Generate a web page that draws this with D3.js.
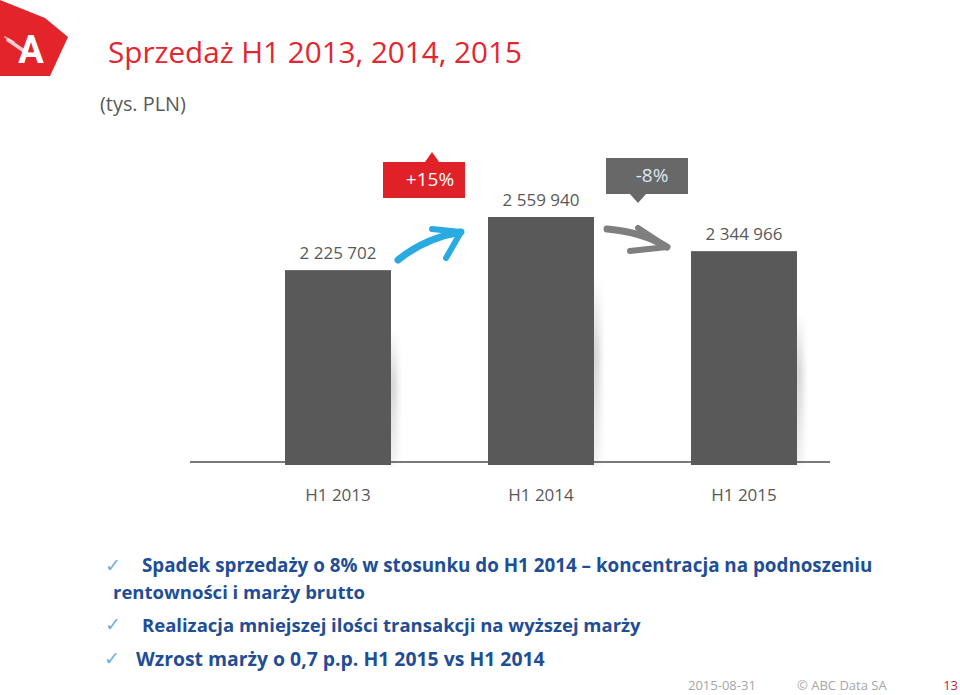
<!DOCTYPE html>
<html><head><meta charset="utf-8">
<script src="https://cdn.jsdelivr.net/npm/d3@7"></script>
<style>
html,body{margin:0;padding:0;background:#fff;}
svg{display:block;font-family:"Open Sans",Lato,sans-serif;}
</style></head>
<body>
<script>
// ---- data ----
const categories = ["H1 2013", "H1 2014", "H1 2015"];
const sales = [2225702, 2559940, 2344966];
const salesLabels = ["2 225 702", "2 559 940", "2 344 966"];
const changes = ["+15%", "-8%"];
const titleText = "Sprzedaż H1 2013, 2014, 2015";
const unitText = "(tys. PLN)";
const bullets = [
  ["Spadek sprzedaży o 8% w stosunku do H1 2014 – koncentracja na podnoszeniu", "rentowności i marży brutto"],
  ["Realizacja mniejszej ilości transakcji na wyższej marży"],
  ["Wzrost marży o 0,7 p.p. H1 2015 vs H1 2014"]
];
const footer = ["2015-08-31", "© ABC Data SA", "13"];

const W = 960, H = 695;
const svg = d3.select("body").append("svg").attr("width", W).attr("height", H);
const defs = svg.append("defs");
const blur = defs.append("filter").attr("id","blur").attr("x","-50%").attr("y","-50%").attr("width","200%").attr("height","200%");
blur.append("feGaussianBlur").attr("stdDeviation", 3);
const grad = defs.append("linearGradient").attr("id","shade").attr("x1",0).attr("y1",0).attr("x2",0).attr("y2",1);
grad.append("stop").attr("offset","0%").attr("stop-color","#000").attr("stop-opacity",0);
grad.append("stop").attr("offset","40%").attr("stop-color","#000").attr("stop-opacity",0.18);
grad.append("stop").attr("offset","100%").attr("stop-color","#000").attr("stop-opacity",0.05);

// helper: fit text to a width
function fit(sel, w){ const n = sel.node(); const cur = parseFloat(sel.attr("font-size")); const l = n.getComputedTextLength(); if(l>0) sel.attr("font-size", cur*w/l); return sel; }

// ---- logo ----
const logo = svg.append("g");
logo.append("path").attr("d","M0,0 L45,18 L68,37 L50,76 L0,76 Z").attr("fill","#e3242b");
logo.append("text").attr("x",31).attr("y",63).attr("text-anchor","middle").attr("font-size",38).attr("font-weight","bold")
  .attr("fill","#fff").attr("font-family","Roboto, sans-serif").text("A");
logo.append("path").attr("d","M8,40 L27,53").attr("stroke","#fff").attr("stroke-width",3.5).attr("opacity",0.75).attr("stroke-linecap","round");
logo.append("path").attr("d","M5,37 L14,42").attr("stroke","#fff").attr("stroke-width",2).attr("opacity",0.5).attr("stroke-linecap","round");

// ---- title ----
fit(svg.append("text").attr("x",108).attr("y",63).attr("font-size",30).attr("fill","#e3262f").text(titleText), 414);
fit(svg.append("text").attr("x",100).attr("y",111).attr("font-size",18).attr("fill","#595959").text(unitText), 86);

// ---- scales ----
const x = d3.scaleBand().domain(categories).range([236.5, 845.5]).paddingInner(0.478).paddingOuter(0.239);
const y = d3.scaleLinear().domain([1000000, 2600000]).range([465, 465 - 1600000 * 248 / 1559940]);

// baseline shadow + line
svg.append("line").attr("x1",190).attr("x2",830).attr("y1",465).attr("y2",465).attr("stroke","#000").attr("stroke-opacity",0.25).attr("stroke-width",3).attr("filter","url(#blur)");
svg.append("line").attr("x1",190).attr("x2",830).attr("y1",462).attr("y2",462).attr("stroke","#7a7a7a").attr("stroke-width",2);

// bar shadows
svg.selectAll("rect.sh").data(sales).join("rect").attr("class","sh")
  .attr("x", (d,i)=>x(categories[i]) + x.bandwidth() - 4)
  .attr("y", d=>y(d) + 60).attr("width", 10).attr("height", d=>465 - y(d) - 60)
  .attr("fill","url(#shade)").attr("filter","url(#blur)");
// bars
svg.selectAll("rect.bar").data(sales).join("rect").attr("class","bar")
  .attr("x", (d,i)=>x(categories[i])).attr("y", d=>y(d))
  .attr("width", x.bandwidth()).attr("height", d=>465 - y(d)).attr("fill","#595959");

// value labels
svg.selectAll("text.val").data(sales).join("text").attr("class","val")
  .attr("x",(d,i)=>x(categories[i]) + x.bandwidth()/2).attr("y", d=>y(d) - 11)
  .attr("text-anchor","middle").attr("font-size",17).attr("fill","#595959")
  .text((d,i)=>salesLabels[i]);

// category axis labels
const xAxis = svg.append("g").attr("transform","translate(0,501)")
  .call(d3.axisBottom(x).tickSize(0).tickPadding(0));
xAxis.select(".domain").remove();
xAxis.selectAll("text").attr("font-size",17).attr("fill","#595959").attr("font-family","Open Sans, sans-serif").attr("dy",0);

// ---- change badges ----
const b1 = svg.append("g");
b1.append("path").attr("d","M383,162 L425,162 L432,152 L439,162 L465,162 L465,198 L383,198 Z").attr("fill","#e02128");
b1.append("text").attr("x",430).attr("y",186).attr("text-anchor","middle").attr("font-size",19).attr("fill","#fff").text(changes[0]);
const b2 = svg.append("g");
b2.append("path").attr("d","M606,158 L688,158 L688,194 L646,194 L638,203 L630,194 L606,194 Z").attr("fill","#686868");
b2.append("text").attr("x",652).attr("y",182).attr("text-anchor","middle").attr("font-size",19).attr("fill","#dce6f2").text(changes[1]);

// arrows
const arr = svg.append("g").attr("fill","none").attr("stroke-linecap","round").attr("stroke-linejoin","round");
arr.append("path").attr("d","M398,260 Q425,238 461,232").attr("stroke","#29abe2").attr("stroke-width",7);
arr.append("path").attr("d","M432,229 L461,232 L446,258").attr("stroke","#29abe2").attr("stroke-width",6);
arr.append("path").attr("d","M607,229 Q642,232 667,247").attr("stroke","#7f7f7f").attr("stroke-width",7);
arr.append("path").attr("d","M638,228 L667,247 L630,251").attr("stroke","#7f7f7f").attr("stroke-width",6);

// ---- bullets ----
const blue = "#1f4e96", checkC = "#6fb0da";
const bl = svg.append("g").attr("font-weight","bold").attr("fill",blue);
function check(cx, cy){ svg.append("text").attr("x",cx).attr("y",cy).attr("font-family","DejaVu Sans").attr("font-size",19).attr("fill",checkC).text("✓"); }
check(105,572); check(105,631); check(104,665);
fit(bl.append("text").attr("x",142).attr("y",572).attr("font-size",18).text(bullets[0][0]), 731);
fit(bl.append("text").attr("x",113).attr("y",599).attr("font-size",18).text(bullets[0][1]), 252);
fit(bl.append("text").attr("x",142).attr("y",632).attr("font-size",18).text(bullets[1][0]), 499);
fit(bl.append("text").attr("x",136).attr("y",666).attr("font-size",18).text(bullets[2][0]), 409);

// ---- footer ----
svg.append("text").attr("x",688).attr("y",690).attr("font-size",13).attr("fill","#a6a6a6").text(footer[0]);
svg.append("text").attr("x",797).attr("y",690).attr("font-size",13).attr("fill","#a6a6a6").text(footer[1]);
svg.append("text").attr("x",958).attr("y",690).attr("text-anchor","end").attr("font-size",13).attr("fill","#b5283c").text(footer[2]);
</script>
</body></html>
